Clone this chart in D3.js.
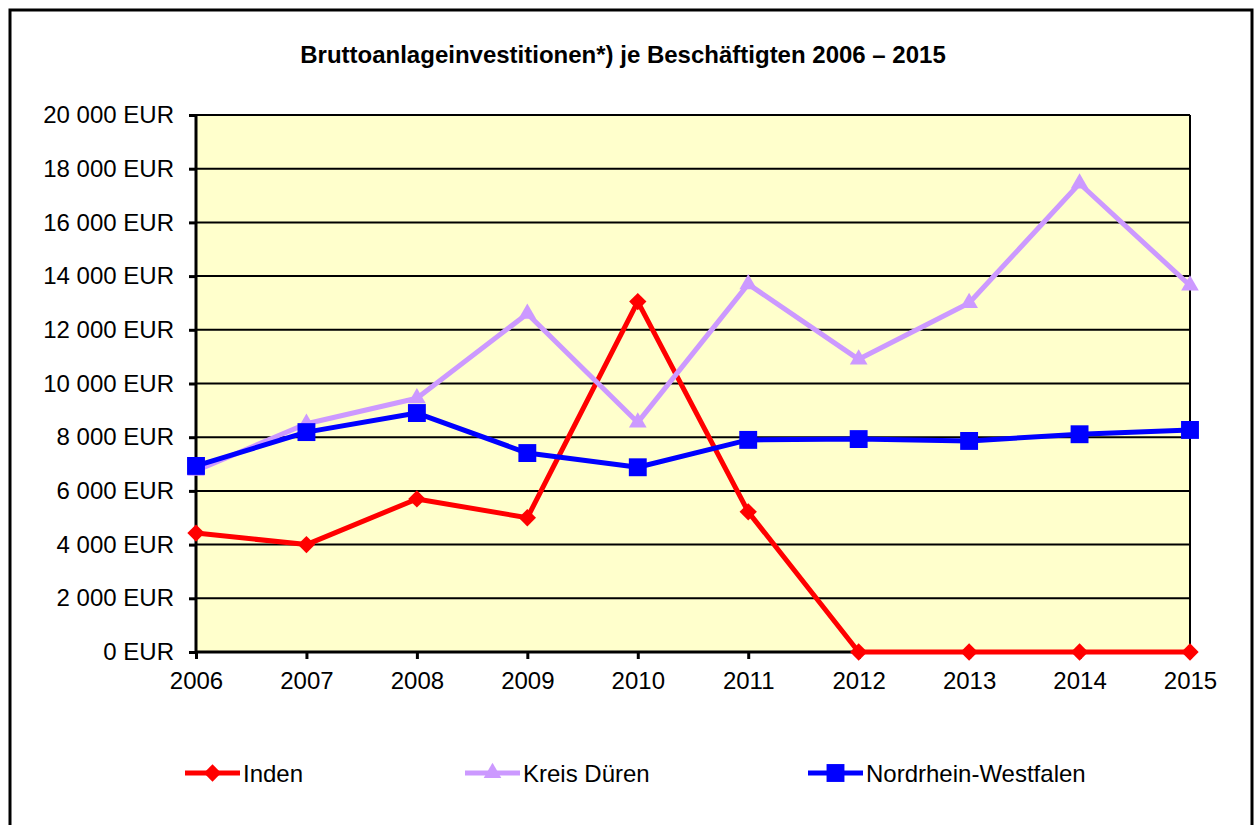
<!DOCTYPE html>
<html><head><meta charset="utf-8">
<script src="https://cdn.jsdelivr.net/npm/d3@7"></script>
<style>body{margin:0;background:#fff}svg{display:block}</style>
</head><body>
<svg id="c" width="1254" height="825"></svg>
<script>
const years = ["2006","2007","2008","2009","2010","2011","2012","2013","2014","2015"];
const inden = [4430, 4000, 5700, 5000, 13050, 5220, 0, 0, 0, 0];
const kreisDueren = [6750, 8500, 9450, 12600, 8550, 13700, 10900, 13000, 17450, 13650];
const nrw = [6930, 8190, 8900, 7410, 6880, 7900, 7930, 7860, 8110, 8270];
const yTicks = [0,2000,4000,6000,8000,10000,12000,14000,16000,18000,20000];
const seriesNames = ["Inden","Kreis Düren","Nordrhein-Westfalen"];
const title = "Bruttoanlageinvestitionen*) je Beschäftigten 2006 – 2015";

const FONT = "Arial, 'Liberation Sans', sans-serif";
const svg = d3.select("#c");
const L=196, R=1190, T=115, B=652;

svg.append("rect").attr("x",10).attr("y",10).attr("width",1242).attr("height",840)
  .attr("fill","#fff").attr("stroke","#000").attr("stroke-width",3);

svg.append("text").attr("x",623).attr("y",63).attr("text-anchor","middle")
  .attr("font-family",FONT).attr("font-weight","bold").attr("font-size",24).text(title);

const x = d3.scalePoint().domain(years).range([L,R]);
const y = d3.scaleLinear().domain([0,20000]).range([B,T]);

svg.append("rect").attr("x",L).attr("y",T).attr("width",R-L).attr("height",B-T).attr("fill","#FFFFCC");

svg.append("g").selectAll("line").data(yTicks.filter(d=>d>0)).join("line")
  .attr("x1",L).attr("x2",R).attr("y1",d=>y(d)).attr("y2",d=>y(d))
  .attr("stroke","#000").attr("stroke-width",2);
svg.append("line").attr("x1",R).attr("x2",R).attr("y1",T).attr("y2",B).attr("stroke","#000").attr("stroke-width",2);

const fmt = d => d3.format(",")(d).replace(/,/g," ") + " EUR";
const yAxis = svg.append("g").attr("transform",`translate(${L},0)`)
  .call(d3.axisLeft(y).tickValues(yTicks).tickFormat(fmt).tickSize(7).tickPadding(15));
const xAxis = svg.append("g").attr("transform",`translate(0,${B})`)
  .call(d3.axisBottom(x).tickSize(7).tickPadding(13));
[yAxis,xAxis].forEach(g=>{
  g.select(".domain").attr("stroke","#000").attr("stroke-width",3);
  g.selectAll(".tick line").attr("stroke","#000").attr("stroke-width",3);
  g.selectAll("text").attr("font-family",FONT).attr("font-size",24).attr("fill","#000");
});
yAxis.select(".domain").attr("d",`M0,${T}V${B}`);
xAxis.select(".domain").attr("d",`M${L},0H${R}`);

const colors = ["#FF0000","#CC99FF","#0000FF"];
const data = [inden,kreisDueren,nrw];
const diamond = { draw(ctx, size){ const r=Math.sqrt(size/2); ctx.moveTo(0,-r); ctx.lineTo(r,0); ctx.lineTo(0,r); ctx.lineTo(-r,0); ctx.closePath(); } };
const symbols = [
  d3.symbol().type(diamond).size(150),
  d3.symbol().type(d3.symbolTriangle).size(135),
  d3.symbol().type(d3.symbolSquare).size(320)
];
const line = d3.line().x((d,i)=>x(years[i])).y(d=>y(d));
data.forEach((vals,k)=>{
  svg.append("path").datum(vals).attr("d",line).attr("fill","none")
    .attr("stroke",colors[k]).attr("stroke-width",5).attr("stroke-linejoin","round");
  svg.append("g").selectAll("path").data(vals).join("path")
    .attr("transform",(d,i)=>`translate(${x(years[i])},${y(d)})`)
    .attr("d",symbols[k]).attr("fill",colors[k]);
});

const legX = [185,465,808];
seriesNames.forEach((n,k)=>{
  const g = svg.append("g").attr("transform",`translate(${legX[k]},773)`);
  g.append("line").attr("x1",0).attr("x2",55).attr("stroke",colors[k]).attr("stroke-width",5);
  g.append("path").attr("transform","translate(27.5,0)").attr("d",symbols[k]).attr("fill",colors[k]);
  g.append("text").attr("x",58).attr("y",8.5).attr("font-family",FONT).attr("font-size",24).text(n);
});
</script>
</body></html>
